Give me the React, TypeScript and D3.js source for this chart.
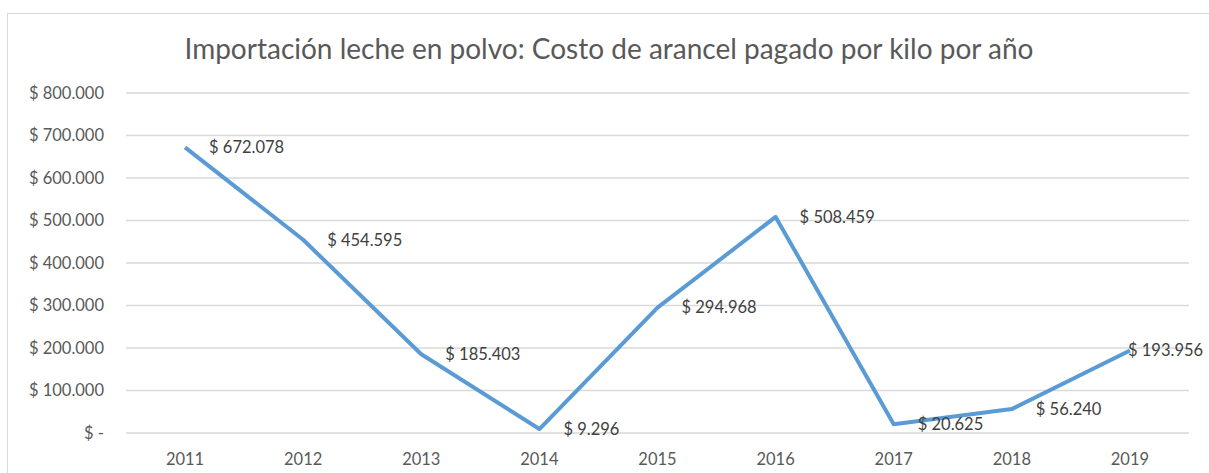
import React from "react";
import * as d3 from "d3";

const years = ["2011", "2012", "2013", "2014", "2015", "2016", "2017", "2018", "2019"];
const values = [672078, 454595, 185403, 9296, 294968, 508459, 20625, 56240, 193956];
const yTicks = [0, 100000, 200000, 300000, 400000, 500000, 600000, 700000, 800000];
const title = "Importación leche en polvo: Costo de arancel pagado por kilo por año";

const W = 1209;
const H = 473;
const left = 126;
const right = 1189;
const top = 93;
const bottom = 433;

const fmt = (v: number) => (v === 0 ? "$ -" : "$ " + d3.format(",")(v).replace(/,/g, "."));

export default function App() {
  const x = d3.scaleBand<string>().domain(years).range([left, right]);
  const y = d3.scaleLinear().domain([0, 800000]).range([bottom, top]);
  const cx = (i: number) => (x(years[i]) as number) + x.bandwidth() / 2;
  const line = d3
    .line<number>()
    .x((_, i) => cx(i))
    .y((d) => y(d));
  const font = "Lato, 'Open Sans', sans-serif";
  const labelW = 78;
  return (
    <svg width={W} height={H} style={{ position: "absolute", left: 0, top: 0, background: "#fff" }}>
      <rect x={7.5} y={13.5} width={W + 10} height={H} fill="#fff" stroke="#d9d9d9" strokeWidth={1} />
      <text x={609} y={59} textAnchor="middle" fontFamily={font} fontSize={28} fill="#595959">
        {title}
      </text>
      {yTicks.map((t) => (
        <g key={t}>
          <line x1={left} x2={right} y1={y(t)} y2={y(t)} stroke="#d9d9d9" strokeWidth={1.3} />
          <text x={104} y={y(t)} dy="0.35em" textAnchor="end" fontFamily={font} fontSize={16.5} fill="#595959">
            {fmt(t)}
          </text>
        </g>
      ))}
      {years.map((yr, i) => (
        <text key={yr} x={cx(i)} y={459} dy="0.35em" textAnchor="middle" fontFamily={font} fontSize={16.5} fill="#595959">
          {yr}
        </text>
      ))}
      <path d={line(values) || ""} fill="none" stroke="#5B9BD5" strokeWidth={4} strokeLinejoin="round" />
      {values.map((v, i) => {
        const lx = Math.min(cx(i) + 24, W - 3 - labelW);
        return (
          <text key={i} x={lx} y={y(v)} dy="0.35em" fontFamily={font} fontSize={16.5} fill="#404040">
            {fmt(v)}
          </text>
        );
      })}
    </svg>
  );
}
